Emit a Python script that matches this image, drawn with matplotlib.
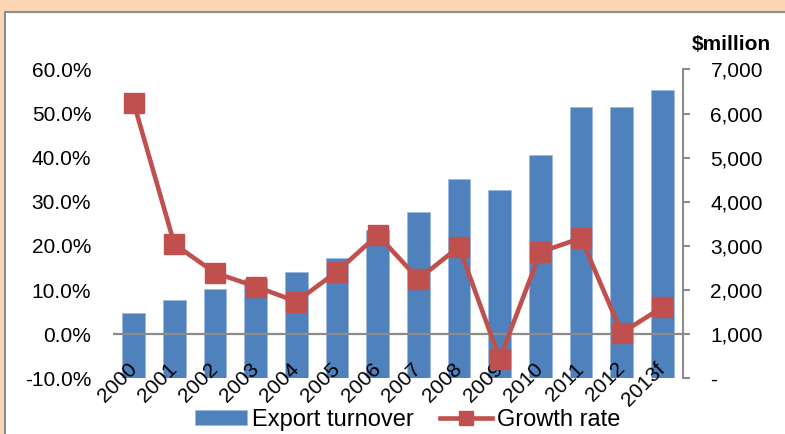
import matplotlib
matplotlib.use("Agg")
import matplotlib.pyplot as plt
from matplotlib.patches import Rectangle
from matplotlib.ticker import FuncFormatter
import numpy as np

plt.rcParams['font.family'] = ['Liberation Sans', 'DejaVu Sans']

years = ["2000", "2001", "2002", "2003", "2004", "2005", "2006",
         "2007", "2008", "2009", "2010", "2011", "2012", "2013f"]
export_turnover = [1470, 1775, 2025, 2245, 2400, 2735, 3365,
                   3775, 4515, 4265, 5055, 6145, 6160, 6530]
growth_rate = [52.4, 20.4, 13.9, 10.8, 7.4, 14.2, 22.5,
               12.5, 19.8, -5.6, 18.6, 21.8, 0.3, 6.1]

W, H = 785, 434
fig = plt.figure(figsize=(W / 100, H / 100), dpi=100)
fig.patch.set_facecolor('#fcd5b5')
fig.patches.append(Rectangle((5 / W, -0.05), 1.1, 1 - 12 / H + 0.05,
                             transform=fig.transFigure, facecolor='white',
                             edgecolor='#8c8c8c', linewidth=1.5, zorder=-5))

left, right = 113.4 / W, 682.7 / W
bottom, top = (H - 378.3) / H, (H - 69.5) / H
ax = fig.add_axes([left, bottom, right - left, top - bottom])
ax2 = ax.twinx()
ax2.set_zorder(1)
ax.set_zorder(2)
ax.patch.set_visible(False)
ax2.patch.set_visible(False)

x = np.arange(len(years))
bars = ax2.bar(x, export_turnover, width=0.56, color='#4f81bd',
               edgecolor='#9dbbe0', linewidth=0.6, label='Export turnover')
ax2.set_ylim(0, 7000)
ax2.set_yticks(np.arange(0, 7001, 1000))
ax2.yaxis.set_major_formatter(FuncFormatter(lambda v, p: '-' if v == 0 else f'{int(v):,}'))
ax2.tick_params(axis='y', direction='out', length=5, width=1.5, color='#8c8c8c',
                labelsize=15, pad=15)

ax.axhline(0, color='#8c8c8c', linewidth=1.6, zorder=1)
line, = ax.plot(x, growth_rate, color='#c0504d', linewidth=3.3, marker='s',
                markersize=14, markerfacecolor='#c0504d', markeredgecolor='#c0504d',
                zorder=3, label='Growth rate')
ax.set_ylim(-10, 60)
ax.set_yticks(np.arange(-10, 61, 10))
ax.yaxis.set_major_formatter(FuncFormatter(lambda v, p: f'{v:.1f}%'))
ax.tick_params(axis='y', length=0, labelsize=15, pad=16)
ax.set_xlim(-0.5, len(years) - 0.5)
ax.set_xticks(x)
ax.set_xticklabels(years, rotation=45, ha='right', va='center', rotation_mode='anchor')
ax.tick_params(axis='x', length=0, labelsize=15, pad=-9)

for a in (ax, ax2):
    for s in ('top', 'left', 'bottom'):
        a.spines[s].set_visible(False)
ax.spines['right'].set_visible(False)
ax2.spines['right'].set_color('#8c8c8c')
ax2.spines['right'].set_linewidth(1.5)

fig.text(731 / W, 1 - 44 / H, '$million', ha='center', va='center',
         fontsize=15, fontweight='bold')

fig.legend(handles=[bars, line], loc='center', bbox_to_anchor=(408 / W, 1 - 420 / H),
           ncol=2, frameon=False, fontsize=17, handlelength=2.2, handleheight=0.6,
           handletextpad=0.22, columnspacing=1.1, markerscale=0.75,
           borderpad=0, borderaxespad=0)

fig.savefig('out.png', dpi=100, facecolor=fig.get_facecolor())
